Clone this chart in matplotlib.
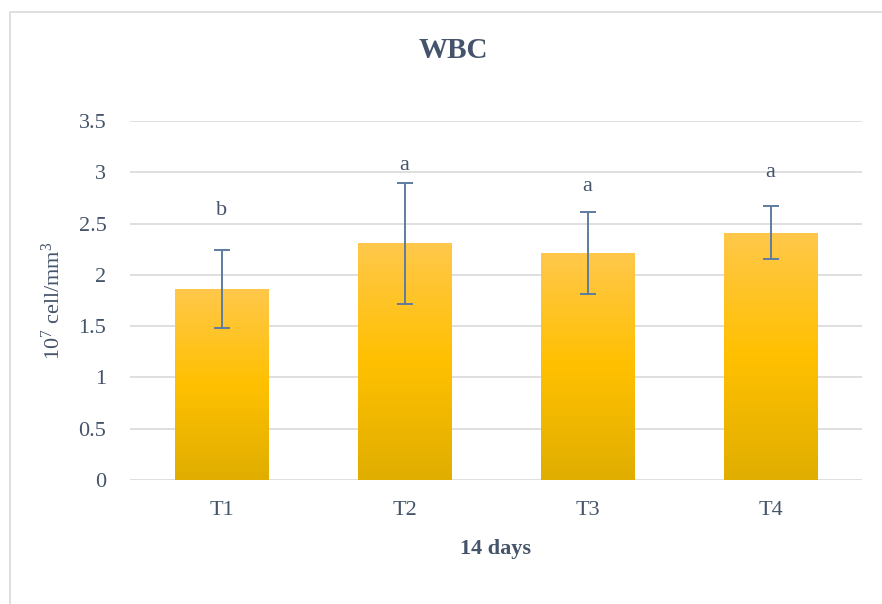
import numpy as np
import matplotlib.pyplot as plt
from matplotlib.colors import LinearSegmentedColormap
from matplotlib.patches import Rectangle

# WBC counts after 14 days, per treatment
groups = ['T1', 'T2', 'T3', 'T4']
wbc = [1.86, 2.31, 2.21, 2.41]
sd = [0.38, 0.59, 0.40, 0.26]
letters = ['b', 'a', 'a', 'a']
letter_y = [2.63, 3.07, 2.86, 3.00]

plt.rcParams['font.family'] = ['Liberation Serif', 'DejaVu Serif']
plt.rcParams['mathtext.default'] = 'regular'
txt = '#44546A'

W, H = 882, 604
fig = plt.figure(figsize=(W / 100, H / 100), dpi=100)
ax = fig.add_axes([130 / W, 124 / H, 732 / W, 359 / H])

# chart area border
fig.patches.append(Rectangle((10 / W, -0.1), 1.1, (H - 12) / H + 0.1,
                             transform=fig.transFigure, fill=False,
                             edgecolor='#D9D9D9', linewidth=1.2))

x = np.arange(len(groups))
bars = ax.bar(x, wbc, width=0.51, color='none', zorder=2)

# vertical gradient fill for each bar
grad = LinearSegmentedColormap.from_list(
    'gold', ['#E0AE00', '#FFC000', '#FFC84B'])
g = np.linspace(0, 1, 256).reshape(-1, 1)
for b in bars:
    x0, y0 = b.get_x(), b.get_y()
    w, h = b.get_width(), b.get_height()
    im = ax.imshow(g, cmap=grad, origin='lower', aspect='auto',
                   extent=[x0, x0 + w, y0, y0 + h], zorder=2)
    im.set_clip_path(b)

ax.errorbar(x, wbc, yerr=sd, fmt='none', ecolor='#5E7BA0',
            elinewidth=1.4, capsize=6, capthick=1.4, zorder=3)

for xi, lab, ly in zip(x, letters, letter_y):
    ax.text(xi, ly, lab, ha='center', va='center', fontsize=16, color=txt)

ax.set_xlim(-0.5, 3.5)
ax.set_ylim(0, 3.5)
ax.set_yticks(np.arange(0, 3.51, 0.5))
ax.set_yticklabels(['0', '0.5', '1', '1.5', '2', '2.5', '3', '3.5'])
ax.set_xticks(x)
ax.set_xticklabels(groups)
ax.tick_params(axis='both', length=0, labelsize=16, labelcolor=txt)
ax.tick_params(axis='y', pad=17)
ax.tick_params(axis='x', pad=15)
ax.yaxis.grid(True, color='#D9D9D9', linewidth=1.2, zorder=0)
ax.set_axisbelow(True)
for s in ax.spines.values():
    s.set_visible(False)

ax.set_ylabel(r'10$^{7}$ cell/mm$^{3}$', fontsize=16, color=txt, labelpad=10)
ax.set_xlabel('14 days', fontsize=16, fontweight='bold', color=txt, labelpad=14)
fig.text(453 / W, 1 - 50 / H, 'WBC', ha='center', va='center',
         fontsize=21, fontweight='bold', color=txt)

fig.savefig('out.png', dpi=100)
